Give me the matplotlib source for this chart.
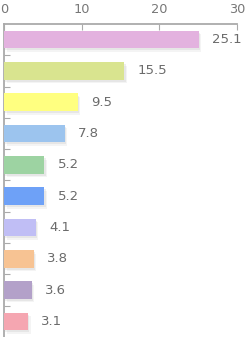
import matplotlib
matplotlib.use("Agg")
import matplotlib.pyplot as plt
import matplotlib.patheffects as pe

values = [25.1, 15.5, 9.5, 7.8, 5.2, 5.2, 4.1, 3.8, 3.6, 3.1]
labels = ["25.1", "15.5", "9.5", "7.8", "5.2", "5.2", "4.1", "3.8", "3.6", "3.1"]
colors = ["#E3B2DF", "#D9E48F", "#FFFF80", "#9CC4EE", "#9DD3A2",
          "#6EA1F7", "#C0BEF5", "#F7C393", "#B3A1C9", "#F5A6B1"]
xticks = [0, 10, 20, 30]

fig = plt.figure(figsize=(2.46, 3.37), dpi=100)
ax = fig.add_axes([4 / 246, 0, 233 / 246, 1 - 24 / 337])

ypos = list(range(len(values)))
bars = ax.barh(ypos, values, height=0.56, color=colors, zorder=3)
for b in bars:
    b.set_path_effects([
        pe.SimplePatchShadow(offset=(1.8, -2.6), shadow_rgbFace="#999999", alpha=0.10),
        pe.SimplePatchShadow(offset=(1.0, -1.5), shadow_rgbFace="#999999", alpha=0.15),
        pe.Normal()])

for y, v, t in zip(ypos, values, labels):
    ax.annotate(t, (v, y), xytext=(9.5, 0), textcoords="offset points",
                ha="left", va="center", fontsize=9.5, color="#6b6b6b",
                family="DejaVu Sans")

ax.set_xlim(0, 30)
ax.set_ylim(len(values) - 0.5, -0.5)
ax.set_xticks(xticks)
ax.xaxis.tick_top()
ax.tick_params(axis="x", direction="in", length=4, color="#aaaaaa", labelsize=9.3,
               labelcolor="#777777", pad=6)
ax.set_yticks([i + 0.5 for i in range(len(values) - 1)])
ax.set_yticklabels([])
ax.tick_params(axis="y", direction="in", length=4, color="#aaaaaa")
for s in ["right", "bottom"]:
    ax.spines[s].set_visible(False)
for s in ["top", "left"]:
    ax.spines[s].set_color("#aaaaaa")
    ax.spines[s].set_linewidth(1.3)
ax.patch.set_alpha(0)

fig.savefig("out.png", dpi=100)
